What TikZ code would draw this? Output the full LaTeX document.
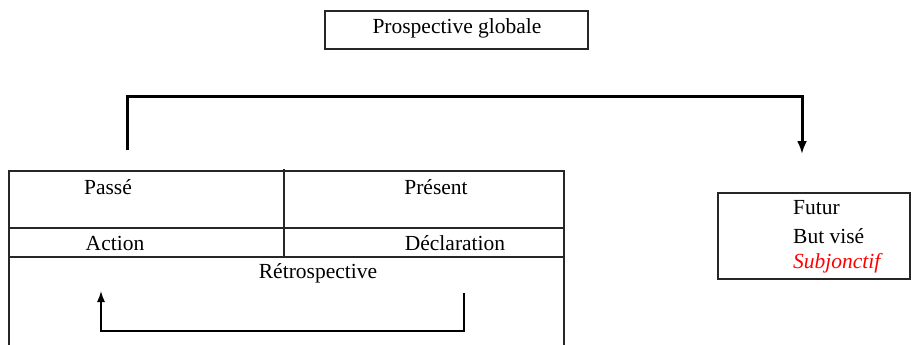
\documentclass[tikz,border=0pt]{standalone}
\usepackage{fontspec}
\setmainfont{Liberation Serif}
\usetikzlibrary{arrows.meta}
\begin{document}
\begin{tikzpicture}[x=1pt,y=-1pt,
  txt/.style={inner sep=0pt,font=\fontsize{21.5}{28}\selectfont},
  thin line/.style={line width=1.2pt,draw=black!85},
  thick line/.style={line width=3pt,draw=black},
]
\useasboundingbox (0,0) rectangle (913,345);
% top box
\node[txt] (pg) at (457,28) {Prospective globale};
\draw[thin line] (325,11) rectangle (588,49);
% bracket
\coordinate (bl) at (127,150);
\coordinate (br) at (802,154);
\draw[thick line,-{Latex[length=13pt,width=10pt]}] (bl) |- (127,96) -| (br);
% table
\draw[thin line] (9,345) -- (9,171) -- (564,171) -- (564,345);
\draw[thin line] (9,228) -- (564,228);
\draw[thin line] (9,257) -- (564,257);
\draw[thin line] (284,169) -- (284,257);
\node[txt] (passe) at (108,187) {Passé};
\node[txt] (present) at (436,187) {Présent};
\node[txt] (action) at (115,243) {Action};
\node[txt] (decl) at (455,243) {Déclaration};
\node[txt] (retro) at (318,273) {Rétrospective};
% inner arrow
\coordinate (ia) at (464,293);
\coordinate (ib) at (101,291);
\draw[line width=1.4pt,-{Latex[length=11pt,width=8pt]}] (ia) |- (283,331) -| (ib);
% right box
\draw[thin line] (718,193) rectangle (910,279);
\node[txt,anchor=west] (futur) at (793,208) {Futur};
\node[txt,anchor=west] (but) at (793,236) {But visé};
\node[txt,anchor=west,text=red] (subj) at (793,263) {\itshape Subjonctif};
\end{tikzpicture}
\end{document}
